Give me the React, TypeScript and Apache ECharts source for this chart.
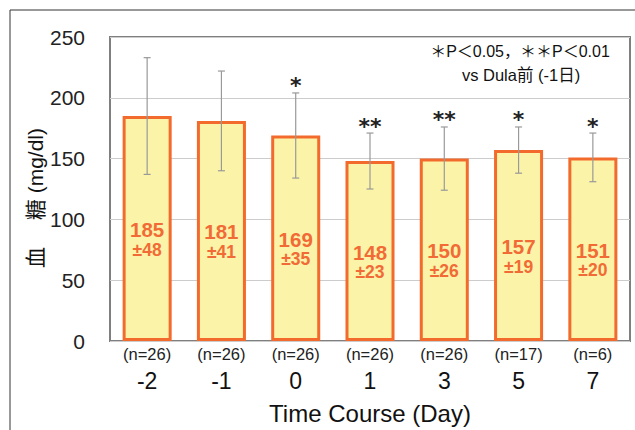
import React, { useEffect, useRef } from "react";
import * as echarts from "echarts";

const categories = ["-2", "-1", "0", "1", "3", "5", "7"];
const nCounts = [26, 26, 26, 26, 26, 17, 6];
const means = [185, 181, 169, 148, 150, 157, 151];
const sds = [48, 41, 35, 23, 26, 19, 20];
const stars = [0, 0, 1, 2, 2, 1, 1];
const yMin = 0;
const yMax = 250;
const yStep = 50;
const legendLines = ["＊P＜0.05，＊＊P＜0.01", "vs Dula前 (-1日)"];
const yName = "血　 糖 (mg/dl)";
const xName = "Time Course (Day)";

const FONT = "'Liberation Sans', Arial, 'Noto Sans CJK JP', sans-serif";

export default function App() {
  const ref = useRef<HTMLDivElement>(null);
  useEffect(() => {
    document.body.style.margin = "0";
    if (!ref.current) return;
    const chart = echarts.init(ref.current, null, { renderer: "svg" });
    const errData = means.map((m, i) => [i, m, sds[i], stars[i]]);
    chart.setOption({
      animation: false,
      backgroundColor: "#fff",
      textStyle: { fontFamily: FONT },
      grid: {
        left: 110,
        top: 37,
        right: 5,
        bottom: 88,
        show: true,
        borderColor: "#7f7f7f",
        borderWidth: 2,
        backgroundColor: "transparent",
      },
      xAxis: {
        type: "category",
        data: categories,
        axisLine: { show: false },
        axisTick: { show: false },
        axisLabel: {
          margin: 4,
          formatter: (v: string, idx: number) => `{n|(n=${nCounts[idx]})}\n{d|${v}}`,
          rich: {
            n: { fontSize: 16.5, lineHeight: 18, color: "#222", fontFamily: FONT },
            d: { fontSize: 23, lineHeight: 36, color: "#111", fontFamily: FONT },
          },
        },
        name: xName,
        nameLocation: "middle",
        nameGap: 60,
        nameTextStyle: { fontSize: 24, color: "#111", fontFamily: FONT },
      },
      yAxis: {
        type: "value",
        min: yMin,
        max: yMax,
        interval: yStep,
        axisLine: { show: false },
        axisTick: { show: false },
        axisLabel: { fontSize: 21, color: "#222", margin: 25, fontFamily: FONT },
        splitLine: { lineStyle: { color: "#cccccc", width: 1.2 } },
      },
      graphic: [
        { type: "line", shape: { x1: 10, y1: 10, x2: 635, y2: 10 }, style: { stroke: "#333", lineWidth: 1 } },
        { type: "line", shape: { x1: 10, y1: 10, x2: 10, y2: 430 }, style: { stroke: "#333", lineWidth: 1 } },
        {
          type: "text",
          x: 35,
          y: 198,
          rotation: Math.PI / 2,
          style: {
            text: yName,
            fill: "#111",
            font: `21px ${FONT}`,
            textAlign: "center",
            textVerticalAlign: "middle",
          },
        },
        {
          type: "text",
          x: 520,
          y: 51,
          style: {
            text: legendLines[0],
            font: `16px ${FONT}`,
            fill: "#111",
            textAlign: "center",
            textVerticalAlign: "middle",
          },
        },
        {
          type: "text",
          x: 521,
          y: 75,
          style: {
            text: legendLines[1],
            font: `16.5px ${FONT}`,
            fill: "#111",
            textAlign: "center",
            textVerticalAlign: "middle",
          },
        },
      ],
      series: [
        {
          type: "bar",
          data: means,
          barWidth: "66%",
          itemStyle: { color: "#fbf4a8", borderColor: "#f36a2d", borderWidth: 3 },
          label: {
            show: true,
            position: "inside",
            offset: [0, 10],
            formatter: (p: any) => `{v|${p.value}}\n{s|±${sds[p.dataIndex]}}`,
            rich: {
              v: { fontSize: 20.5, fontWeight: "bold", color: "#f26a35", lineHeight: 22, fontFamily: FONT },
              s: { fontSize: 17.5, fontWeight: "bold", color: "#f26a35", lineHeight: 18, fontFamily: FONT },
            },
          },
          z: 2,
        },
        {
          type: "custom",
          data: errData,
          encode: { x: 0, y: 1 },
          z: 5,
          renderItem: (params: any, api: any) => {
            const i = api.value(0);
            const m = api.value(1);
            const sd = api.value(2);
            const s = api.value(3);
            const top = api.coord([i, m + sd]);
            const bot = api.coord([i, m - sd]);
            const x = top[0];
            const hw = 3.5;
            const st = { stroke: "#999", lineWidth: 1.2 };
            const children: any[] = [
              { type: "line", shape: { x1: x, y1: top[1], x2: x, y2: bot[1] }, style: st },
              { type: "line", shape: { x1: x - hw, y1: top[1], x2: x + hw, y2: top[1] }, style: st },
              { type: "line", shape: { x1: x - hw, y1: bot[1], x2: x + hw, y2: bot[1] }, style: st },
            ];
            if (s > 0) {
              children.push({
                type: "text",
                x: x,
                y: top[1] - 7,
                style: {
                  text: "*".repeat(s),
                  font: "bold 22px 'DejaVu Sans', sans-serif",
                  fill: "#222",
                  textAlign: "center",
                  textVerticalAlign: "middle",
                },
              });
            }
            return { type: "group", children };
          },
        },
      ],
    });
    return () => chart.dispose();
  }, []);
  return <div ref={ref} style={{ width: 635, height: 430 }} />;
}
